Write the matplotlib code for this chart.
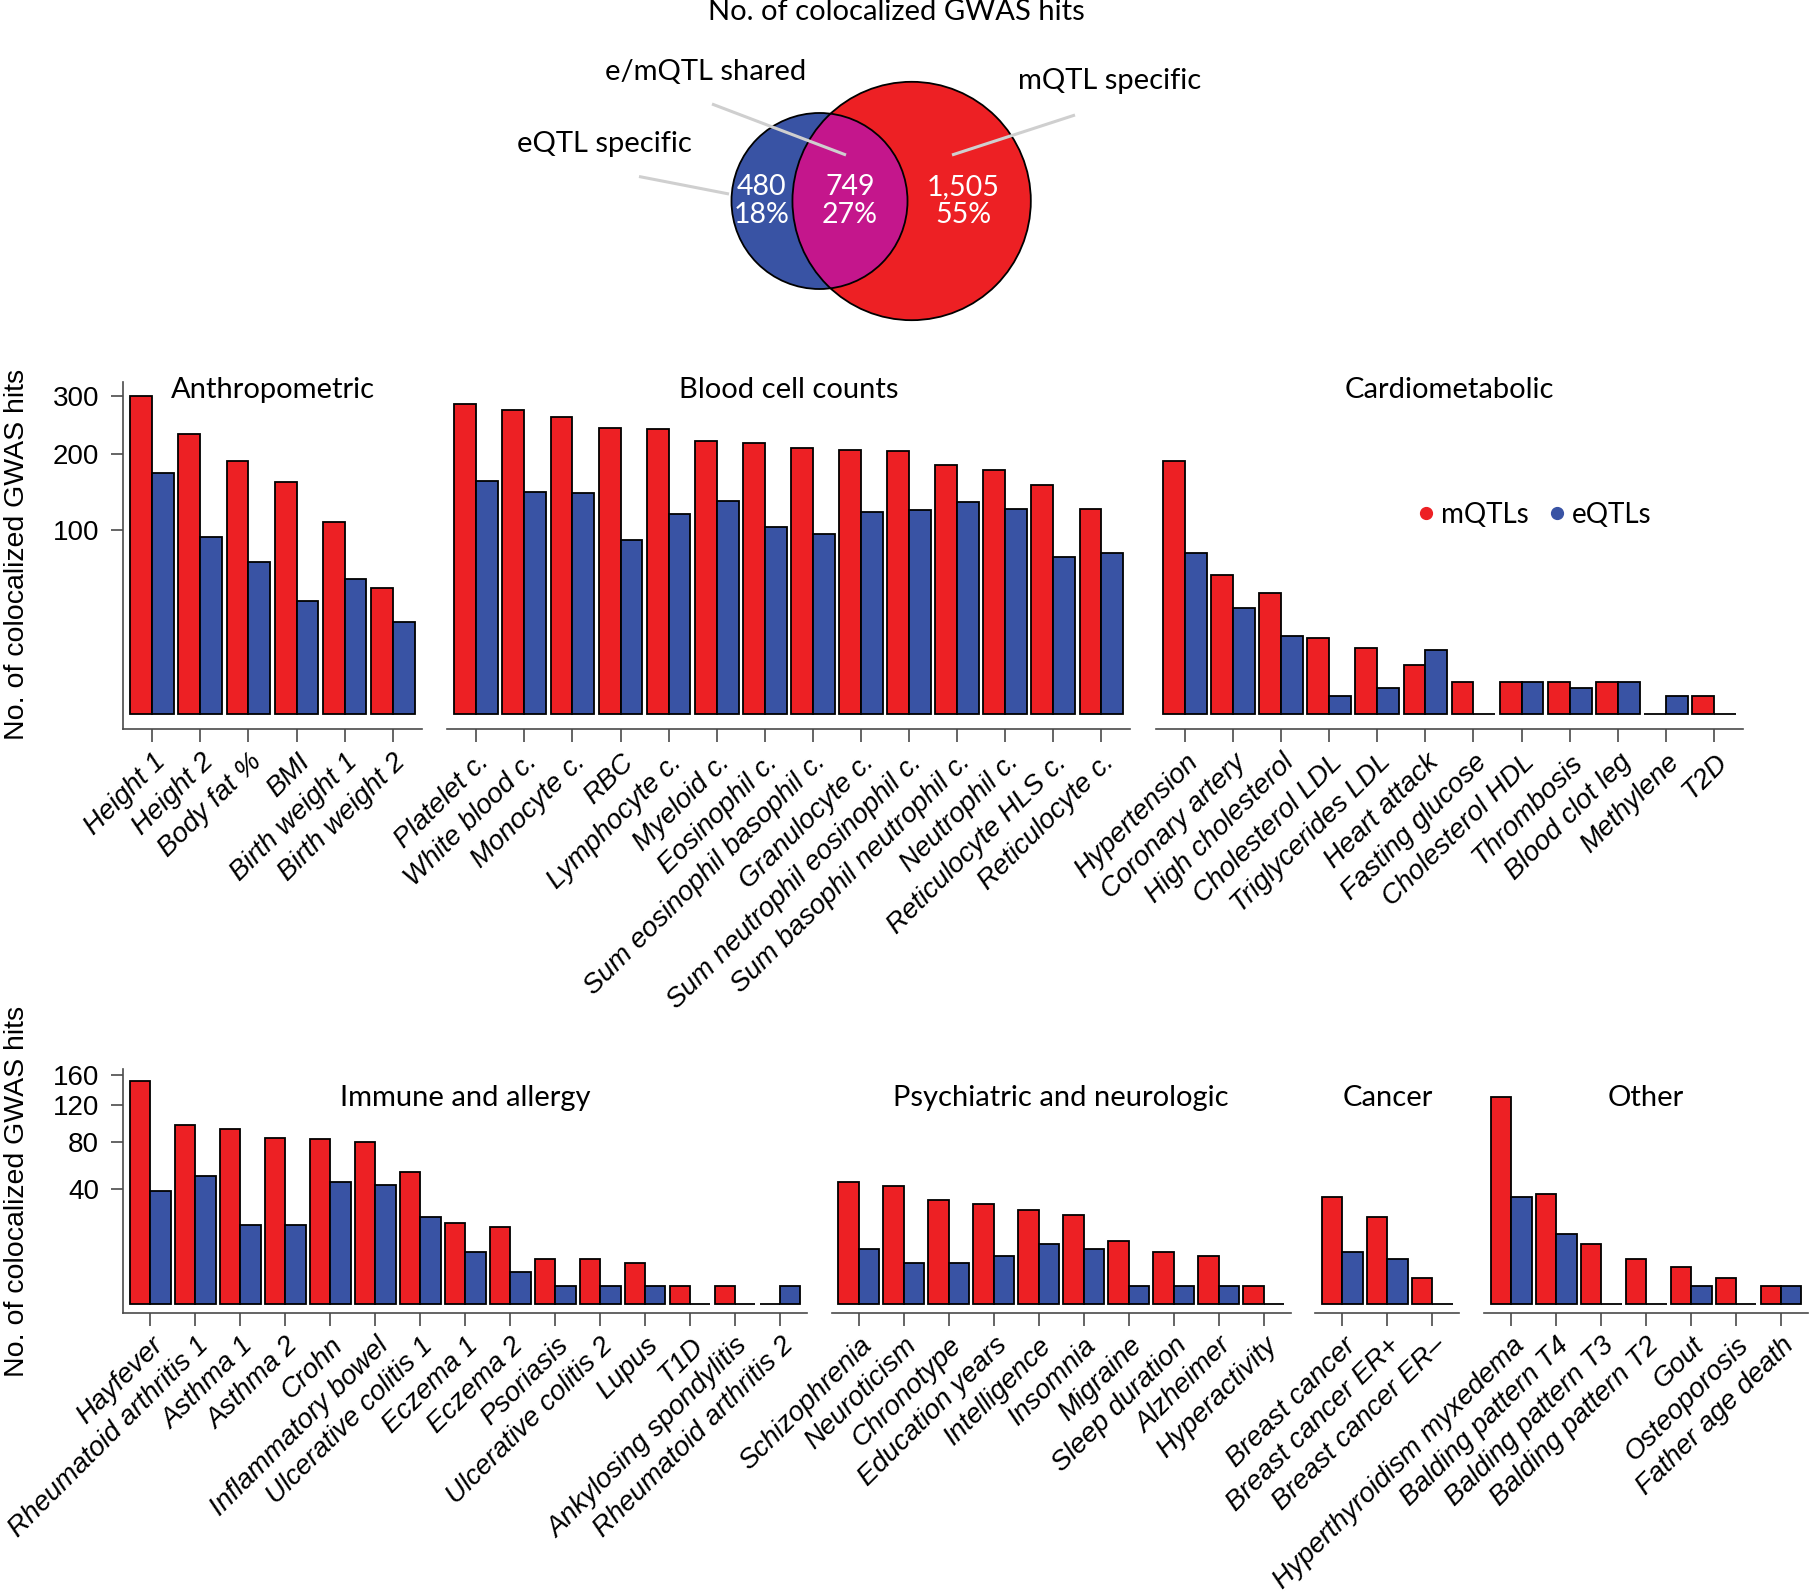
"""
Colocalized GWAS hits: Venn of eQTL / mQTL overlap plus per-trait bar panels
(sqrt-scaled counts, mQTLs red, eQTLs blue).
"""
import numpy as np
import matplotlib
matplotlib.use("Agg")
import matplotlib.pyplot as plt
from matplotlib.patches import Circle
from matplotlib.lines import Line2D
from matplotlib.transforms import ScaledTranslation, blended_transform_factory

W_PX, H_PX, DPI = 1809, 1595, 100

RED, BLUE, MAGENTA = "#ED2024", "#3953A4", "#C4168C"
AXIS_C = "#4a4a4a"
LEADER_C = "#cfcfcf"
TICK_FONT = "Liberation Sans"
HEAD_FONT = "Lato"
YLABEL = "No. of colocalized GWAS hits"

# ---- Venn
venn_names = ["eQTL specific", "e/mQTL shared", "mQTL specific"]
venn_counts = [480, 749, 1505]
venn_pcts = ["18%", "27%", "55%"]

# ---- top row
anthro_traits = ["Height 1", "Height 2", "Body fat %", "BMI",
                 "Birth weight 1", "Birth weight 2"]
anthro_m = [300, 233, 190, 160, 109, 47]
anthro_e = [172, 93, 68, 38, 54, 25]

blood_traits = ["Platelet c.", "White blood c.", "Monocyte c.", "RBC",
                "Lymphocyte c.", "Myeloid c.", "Eosinophil c.",
                "Sum eosinophil basophil c.", "Granulocyte c.",
                "Sum neutrophil eosinophil c.", "Sum basophil neutrophil c.",
                "Neutrophil c.", "Reticulocyte HLS c.", "Reticulocyte c."]
blood_m = [284, 273, 262, 242, 240, 220, 218, 210, 207, 205, 184, 177, 156, 125]
blood_e = [161, 146, 145, 90, 119, 134, 104, 96, 121, 123, 133, 125, 73, 77]

cardio_traits = ["Hypertension", "Coronary artery", "High cholesterol",
                 "Cholesterol LDL", "Triglycerides LDL", "Heart attack",
                 "Fasting glucose", "Cholesterol HDL", "Thrombosis",
                 "Blood clot leg", "Methylene", "T2D"]
cardio_m = [190, 57, 43, 17, 13, 7, 3, 3, 3, 3, 0, 1]
cardio_e = [77, 33, 18, 1, 2, 12, 0, 3, 2, 3, 1, 0]

# ---- bottom row
immune_traits = ["Hayfever", "Rheumatoid arthritis 1", "Asthma 1", "Asthma 2",
                 "Crohn", "Inflammatory bowel", "Ulcerative colitis 1",
                 "Eczema 1", "Eczema 2", "Psoriasis", "Ulcerative colitis 2",
                 "Lupus", "T1D", "Ankylosing spondylitis",
                 "Rheumatoid arthritis 2"]
immune_m = [151, 97, 93, 84, 83, 80, 53, 20, 18, 6, 6, 5, 1, 1, 0]
immune_e = [39, 50, 19, 19, 45, 43, 23, 8, 3, 1, 1, 1, 0, 0, 1]

psych_traits = ["Schizophrenia", "Neuroticism", "Chronotype",
                "Education years", "Intelligence", "Insomnia", "Migraine",
                "Sleep duration", "Alzheimer", "Hyperactivity"]
psych_m = [45, 42, 33, 30, 27, 24, 12, 8, 7, 1]
psych_e = [9, 5, 5, 7, 11, 9, 1, 1, 1, 0]

cancer_traits = ["Breast cancer", "Breast cancer ER+", "Breast cancer ER\u2013"]
cancer_m = [35, 23, 2]
cancer_e = [8, 6, 0]

other_traits = ["Hyperthyroidism myxedema", "Balding pattern T4",
                "Balding pattern T3", "Balding pattern T2", "Gout",
                "Osteoporosis", "Father age death"]
other_m = [130, 37, 11, 6, 4, 2, 1]
other_e = [35, 15, 0, 0, 1, 0, 1]

GROUP = 2.2     # two unit bars + 0.2 space
PAD = 0.32      # axis overhang on each side, in bar units
LABEL_SIZE = 20
HEAD_SIZE = 21


def sqrt_fwd(y):
    return np.sign(y) * np.sqrt(np.abs(y))


def sqrt_inv(y):
    return np.sign(y) * y ** 2


def lens_area(r1, r2, d):
    a1 = r1 ** 2 * np.arccos((d ** 2 + r1 ** 2 - r2 ** 2) / (2 * d * r1))
    a2 = r2 ** 2 * np.arccos((d ** 2 + r2 ** 2 - r1 ** 2) / (2 * d * r2))
    a3 = 0.5 * np.sqrt((-d + r1 + r2) * (d + r1 - r2) * (d - r1 + r2) * (d + r1 + r2))
    return a1 + a2 - a3


def center_distance(r1, r2, target):
    lo, hi = abs(r1 - r2) + 1e-6, r1 + r2 - 1e-6
    for _ in range(60):
        mid = (lo + hi) / 2
        if lens_area(r1, r2, mid) > target:
            lo = mid
        else:
            hi = mid
    return (lo + hi) / 2


def draw_venn(fig):
    vax = fig.add_axes([0, 1 - 330 / H_PX, 1, 330 / H_PX])
    vax.set_xlim(0, W_PX)
    vax.set_ylim(330, 0)
    vax.axis("off")

    px_per_hit = 19.8
    e_tot = venn_counts[0] + venn_counts[1]
    m_tot = venn_counts[1] + venn_counts[2]
    r_e = np.sqrt(e_tot * px_per_hit / np.pi)
    r_m = np.sqrt(m_tot * px_per_hit / np.pi)
    d = center_distance(r_e, r_m, venn_counts[1] * px_per_hit)
    cx_e, cy = 819.5, 201
    cx_m = cx_e + d

    vax.add_patch(Circle((cx_e, cy), r_e, fc=BLUE, ec="none"))
    red = Circle((cx_m, cy), r_m, fc=RED, ec="none")
    vax.add_patch(red)
    mag = Circle((cx_e, cy), r_e, fc=MAGENTA, ec="none")
    vax.add_patch(mag)
    mag.set_clip_path(red)
    for c, r in [(cx_e, r_e), (cx_m, r_m)]:
        vax.add_patch(Circle((c, cy), r, fill=False, ec="black", lw=1.3))

    xs = [((cx_e - r_e) + (cx_m - r_m)) / 2,
          ((cx_m - r_m) + (cx_e + r_e)) / 2,
          ((cx_e + r_e) + (cx_m + r_m)) / 2 - 6]
    for x, n, p in zip(xs, venn_counts, venn_pcts):
        vax.text(x, cy, f"{n:,}\n{p}", ha="center", va="center", color="white",
                 fontsize=20.5, family=HEAD_FONT, linespacing=1.12)

    label_pos = [(604.5, 144), (706, 71.5), (1110, 80.8)]
    leaders = [((639, 176.5), (729, 194)),
               ((712, 104), (846, 155)),
               ((1075, 115), (952, 155))]
    for name, (lx, ly), ((x1, y1), (x2, y2)) in zip(venn_names, label_pos, leaders):
        vax.text(lx, ly, name, ha="center", va="center", fontsize=HEAD_SIZE,
                 family=HEAD_FONT)
        vax.plot([x1, x2], [y1, y2], color=LEADER_C, lw=2.2,
                 solid_capstyle="butt")

    fig.text(896.5 / W_PX, 1 - 12 / H_PX, YLABEL, ha="center", va="center",
             fontsize=HEAD_SIZE, family=HEAD_FONT)


def draw_row(fig, panels, x0, unit, gap, top, bot, ylim, yticks, title_px):
    x = x0
    axes = []
    for i, (title, traits, m, e) in enumerate(panels):
        n = len(traits)
        width = n * GROUP - 0.2
        left = x - PAD * unit
        ax = fig.add_axes([left / W_PX, 1 - bot / H_PX,
                           (width + 2 * PAD) * unit / W_PX, (bot - top) / H_PX])
        ax.set_yscale("function", functions=(sqrt_fwd, sqrt_inv))
        pos = np.arange(n) * GROUP
        ax.bar(pos, m, width=1, align="edge", color=RED, edgecolor="black",
               linewidth=1.3, zorder=2)
        ax.bar(pos + 1, e, width=1, align="edge", color=BLUE, edgecolor="black",
               linewidth=1.3, zorder=2)
        ax.set_xlim(-PAD, width + PAD)
        ax.set_ylim(*ylim)

        ax.set_xticks(pos + 1)
        ax.set_xticklabels(traits, rotation=45, ha="right", va="top",
                           rotation_mode="anchor", fontsize=LABEL_SIZE,
                           fontstyle="italic", family=TICK_FONT)
        shift = ScaledTranslation(6 / DPI, 0, fig.dpi_scale_trans)
        for lab in ax.get_xticklabels():
            lab.set_transform(lab.get_transform() + shift)
        ax.tick_params(axis="x", length=9, width=1.2, color=AXIS_C, pad=5.5)

        for s in ["top", "right"]:
            ax.spines[s].set_visible(False)
        ax.spines["bottom"].set_color(AXIS_C)
        ax.spines["bottom"].set_linewidth(1.2)
        if i == 0:
            ax.spines["left"].set_color(AXIS_C)
            ax.spines["left"].set_linewidth(1.2)
            ax.set_yticks(yticks)
            ax.set_yticklabels([str(t) for t in yticks], fontsize=LABEL_SIZE,
                               family=TICK_FONT)
            ax.tick_params(axis="y", length=8.4, width=1.2, color=AXIS_C, pad=9)
        else:
            ax.spines["left"].set_visible(False)
            ax.set_yticks([])
        ax.minorticks_off()

        tr = blended_transform_factory(ax.transAxes, fig.transFigure)
        ax.text(0.5, 1 - title_px / H_PX, title, transform=tr, ha="center",
                va="center", fontsize=HEAD_SIZE, family=HEAD_FONT)
        axes.append(ax)
        x += (width + gap) * unit
    return axes


def main():
    fig = plt.figure(figsize=(W_PX / DPI, H_PX / DPI), dpi=DPI)
    fig.patch.set_facecolor("white")

    draw_venn(fig)

    row1 = [("Anthropometric", anthro_traits, anthro_m, anthro_e),
            ("Blood cell counts", blood_traits, blood_m, blood_e),
            ("Cardiometabolic", cardio_traits, cardio_m, cardio_e)]
    draw_row(fig, row1, x0=130.4, unit=21.86, gap=1.82, top=382, bot=729,
             ylim=(-0.82 ** 2, 18.07 ** 2), yticks=[100, 200, 300],
             title_px=390)

    row2 = [("Immune and allergy", immune_traits, immune_m, immune_e),
            ("Psychiatric and neurologic", psych_traits, psych_m, psych_e),
            ("Cancer", cancer_traits, cancer_m, cancer_e),
            ("Other", other_traits, other_m, other_e)]
    draw_row(fig, row2, x0=129.7, unit=20.45, gap=1.85, top=1069, bot=1312.5,
             ylim=(-0.49 ** 2, 12.96 ** 2), yticks=[40, 80, 120, 160],
             title_px=1098)

    for yc in [554.5, 1191]:
        fig.text(17 / W_PX, 1 - yc / H_PX, YLABEL, rotation=90, ha="center",
                 va="center", fontsize=20.5, family=TICK_FONT)

    handles = [Line2D([], [], ls="", marker="o", color=RED, markersize=8.5),
               Line2D([], [], ls="", marker="o", color=BLUE, markersize=8.5)]
    fig.legend(handles, ["mQTLs", "eQTLs"], loc="center left",
               bbox_to_anchor=(1417.7 / W_PX, 1 - 514.6 / H_PX), ncol=2,
               frameon=False, handlelength=0.6, handletextpad=0.25,
               columnspacing=0.7, borderpad=0, borderaxespad=0,
               prop={"family": HEAD_FONT, "size": 20})

    fig.savefig("out.png", dpi=DPI, facecolor="white")
    plt.close(fig)


if __name__ == "__main__":
    main()
